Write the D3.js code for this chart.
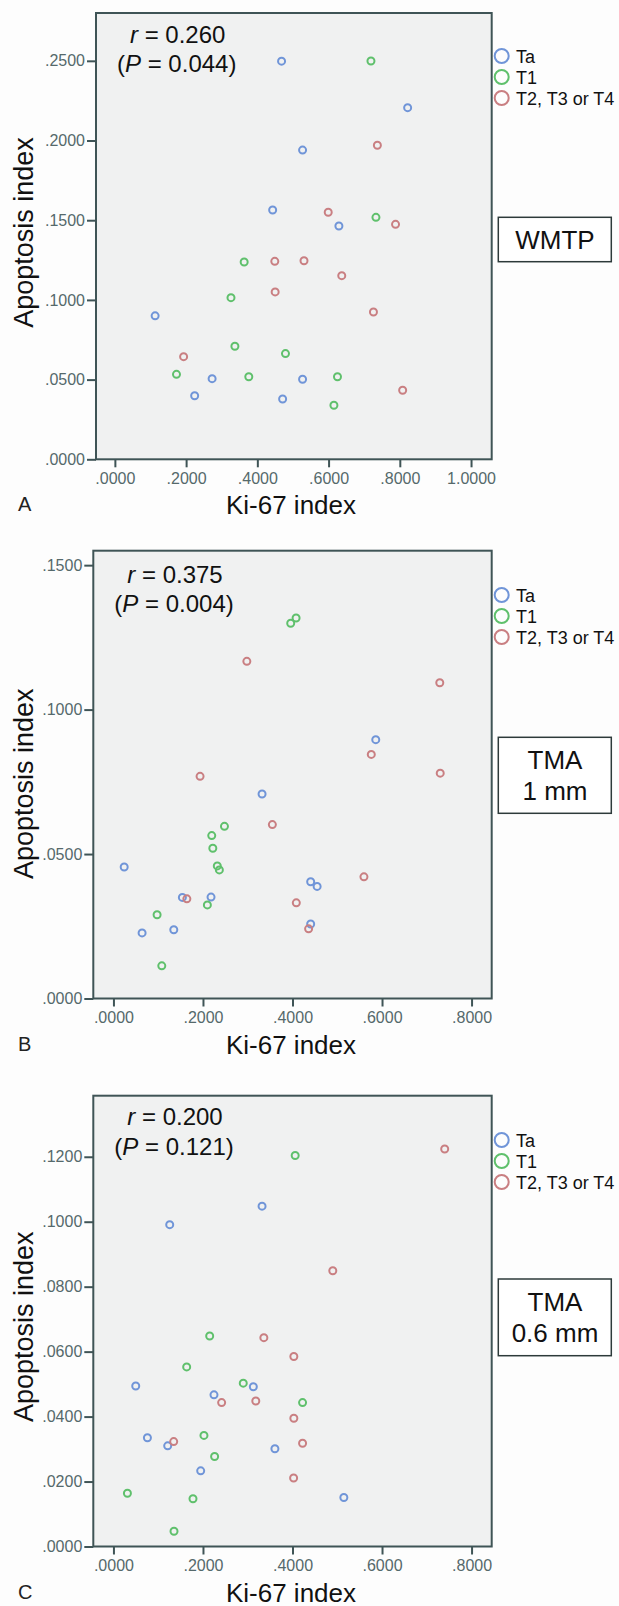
<!DOCTYPE html>
<html lang="en">
<head>
<meta charset="UTF-8">
<title>Apoptosis index vs Ki-67 index</title>
<script src="https://d3js.org/d3.v7.min.js"></script>
<style>
  body { margin: 0; background: #fdfdfd; }
  svg { display: block; font-family: "Liberation Sans", Arial, sans-serif; }
  .tick text { fill: #55696b; font-size: 16px; }
  .tick line { stroke: #3f5456; stroke-width: 2px; }
</style>
</head>
<body>
<svg width="619" height="1606"></svg>
<script>
// legend categories
const stages = ["Ta", "T1", "T2, T3 or T4"];
const stageColors = ["#7095d8", "#5fc06c", "#c97f82"];

// Panel A - WMTP, [Ki-67 index, apoptosis index]
const wmtpTa = [[0.468,0.2498],[0.527,0.194],[0.443,0.1564],[0.822,0.2206],[0.629,0.1464],
  [0.113,0.090],[0.273,0.0506],[0.527,0.0502],[0.224,0.0399],[0.471,0.0378]];
const wmtpT1 = [[0.719,0.2499],[0.733,0.1518],[0.363,0.1238],[0.326,0.1014],[0.337,0.0709],
  [0.479,0.0663],[0.173,0.0533],[0.376,0.0518],[0.625,0.0518],[0.615,0.0339]];
const wmtpT234 = [[0.737,0.197],[0.599,0.155],[0.788,0.1474],[0.449,0.1242],[0.531,0.1246],
  [0.450,0.105],[0.193,0.0644],[0.637,0.1152],[0.726,0.0924],[0.808,0.0433]];

// Panel B - TMA 1 mm
const tma1Ta = [[0.332,0.0708],[0.586,0.0896],[0.024,0.0455],[0.4406,0.0404],[0.455,0.0388],
  [0.154,0.035],[0.218,0.0351],[0.4406,0.0258],[0.064,0.0227],[0.1348,0.0238]];
const tma1T1 = [[0.396,0.1299],[0.408,0.1317],[0.248,0.0596],[0.2196,0.0564],[0.222,0.052],
  [0.232,0.0459],[0.2366,0.0445],[0.2098,0.0324],[0.0975,0.029],[0.108,0.0113]];
const tma1T234 = [[0.298,0.1167],[0.1935,0.0769],[0.729,0.1093],[0.576,0.0845],[0.730,0.078],
  [0.355,0.0602],[0.5596,0.0421],[0.164,0.0345],[0.4085,0.0331],[0.436,0.0241]];

// Panel C - TMA 0.6 mm
const tma06Ta = [[0.332,0.1048],[0.1257,0.0991],[0.0498,0.0494],[0.3125,0.0492],[0.2246,0.0467],
  [0.0759,0.0335],[0.1212,0.031],[0.3607,0.0301],[0.1949,0.0233],[0.5147,0.0151]];
const tma06T1 = [[0.406,0.1204],[0.215,0.0648],[0.1636,0.0553],[0.290,0.0503],[0.4225,0.0443],
  [0.2022,0.0342],[0.226,0.0277],[0.0312,0.0164],[0.1777,0.0147],[0.1353,0.0047]];
const tma06T234 = [[0.740,0.1224],[0.336,0.0643],[0.490,0.0849],[0.403,0.0585],[0.2417,0.0443],
  [0.318,0.0448],[0.403,0.0395],[0.1346,0.0323],[0.4225,0.0318],[0.4025,0.0211]];

// tick values and labels
const xTicksA = [0, 0.2, 0.4, 0.6, 0.8, 1.0];
const yTicksA = [0, 0.05, 0.10, 0.15, 0.20, 0.25];
const xTicksBC = [0, 0.2, 0.4, 0.6, 0.8];
const yTicksB = [0, 0.05, 0.10, 0.15];
const yTicksC = [0, 0.02, 0.04, 0.06, 0.08, 0.10, 0.12];
const rValues = ["0.260", "0.375", "0.200"];
const pValues = ["0.044", "0.004", "0.121"];
const methodLabels = [["WMTP"], ["TMA", "1 mm"], ["TMA", "0.6 mm"]];
const panelLetters = ["A", "B", "C"];

const svg = d3.select("svg");
const fmt = v => d3.format(".4f")(v).replace(/^0\./, ".");

const panels = [
  { series: [wmtpTa, wmtpT1, wmtpT234], xDom: [-0.053, 1.058], yDom: [0, 0.28],
    left: 96, right: 491.7, top: 13, bottom: 459.3, xTicks: xTicksA, yTicks: yTicksA,
    rY: 42.7, pY: 71.7, legY: 56, boxTop: 217.3, boxBot: 261.7, titleY: 232.5 },
  { series: [tma1Ta, tma1T1, tma1T234], xDom: [-0.045, 0.845], yDom: [0, 0.155],
    left: 93.3, right: 491.7, top: 550.7, bottom: 998.5, xTicks: xTicksBC, yTicks: yTicksB,
    rY: 583.3, pY: 611.7, legY: 595, boxTop: 737.3, boxBot: 813.3, titleY: 783.7 },
  { series: [tma06Ta, tma06T1, tma06T234], xDom: [-0.045, 0.845], yDom: [0, 0.1388],
    left: 93.3, right: 491.7, top: 1095.7, bottom: 1546.5, xTicks: xTicksBC, yTicks: yTicksC,
    rY: 1125, pY: 1155, legY: 1140, boxTop: 1279, boxBot: 1355.7, titleY: 1326.7 }
];

panels.forEach((p, i) => {
  const g = svg.append("g");
  const x = d3.scaleLinear().domain(p.xDom).range([p.left, p.right]);
  const y = d3.scaleLinear().domain(p.yDom).range([p.bottom, p.top]);

  // plot area
  g.append("rect")
    .attr("x", p.left).attr("y", p.top)
    .attr("width", p.right - p.left).attr("height", p.bottom - p.top)
    .attr("fill", "#f0f1f1").attr("stroke", "#3f5456").attr("stroke-width", 2);

  // axes
  const yAxis = g.append("g").attr("transform", `translate(${p.left},0)`)
    .call(d3.axisLeft(y).tickValues(p.yTicks).tickFormat(fmt).tickSize(9).tickPadding(2));
  yAxis.select(".domain").remove();
  const xAxis = g.append("g").attr("transform", `translate(0,${p.bottom})`)
    .call(d3.axisBottom(x).tickValues(p.xTicks).tickFormat(fmt).tickSize(8).tickPadding(5));
  xAxis.select(".domain").remove();
  g.selectAll(".tick text").attr("font-family", null).attr("font-size", null);

  // points
  p.series.forEach((s, k) => {
    g.append("g").selectAll("circle")
      .data(s)
      .enter().append("circle")
      .attr("cx", d => x(d[0]))
      .attr("cy", d => y(d[1]))
      .attr("r", 3.5)
      .attr("fill", "none")
      .attr("stroke", stageColors[k])
      .attr("stroke-width", 2);
  });

  // correlation text
  const rt = g.append("text").attr("x", p.left + 34).attr("y", p.rY)
    .attr("font-size", 24).attr("fill", "#111");
  rt.append("tspan").attr("font-style", "italic").text("r");
  rt.append("tspan").text(" = " + rValues[i]);
  const pt = g.append("text").attr("x", p.left + 21).attr("y", p.pY)
    .attr("font-size", 24).attr("fill", "#111");
  pt.append("tspan").text("(");
  pt.append("tspan").attr("font-style", "italic").text("P");
  pt.append("tspan").text(" = " + pValues[i] + ")");

  // legend
  stages.forEach((name, k) => {
    const ly = p.legY + k * 21;
    g.append("circle").attr("cx", 501.7).attr("cy", ly).attr("r", 7)
      .attr("fill", "none").attr("stroke", stageColors[k]).attr("stroke-width", 2);
    g.append("text").attr("x", 516).attr("y", ly + 6.5)
      .attr("font-size", 18).attr("fill", "#111").text(name);
  });

  // method box
  g.append("rect").attr("x", 498.3).attr("y", p.boxTop)
    .attr("width", 113).attr("height", p.boxBot - p.boxTop)
    .attr("fill", "#fff").attr("stroke", "#2d3a3a").attr("stroke-width", 1.5);
  const lines = methodLabels[i];
  const mid = (p.boxTop + p.boxBot) / 2;
  lines.forEach((t, k) => {
    g.append("text").attr("x", 555).attr("text-anchor", "middle")
      .attr("y", mid + 9.5 + (k - (lines.length - 1) / 2) * 31)
      .attr("font-size", 26).attr("fill", "#111").text(t);
  });

  // axis titles
  g.append("text")
    .attr("transform", `translate(33,${p.titleY}) rotate(-90)`)
    .attr("text-anchor", "middle").attr("font-size", 27).attr("fill", "#111")
    .text("Apoptosis index");
  g.append("text").attr("x", 291).attr("y", p.bottom + 55)
    .attr("text-anchor", "middle").attr("font-size", 26).attr("fill", "#111")
    .text("Ki-67 index");
  g.append("text").attr("x", 18).attr("y", p.bottom + 52)
    .attr("font-size", 20).attr("fill", "#222").text(panelLetters[i]);
});
</script>
</body>
</html>
